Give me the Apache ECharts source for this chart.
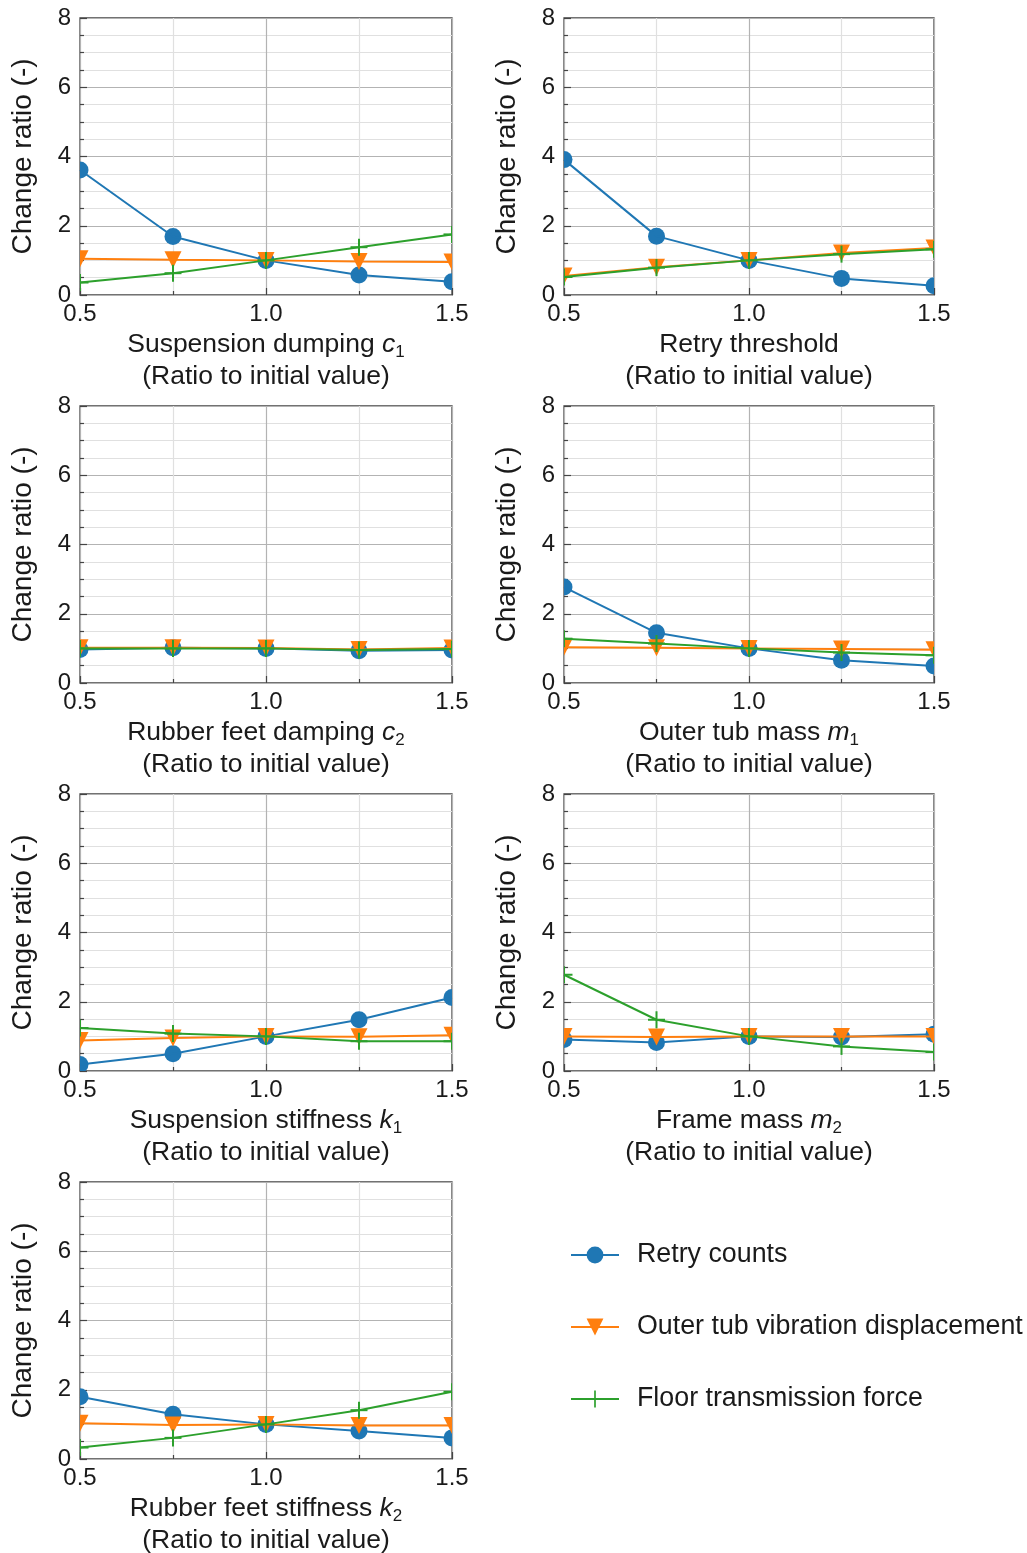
<!DOCTYPE html>
<html>
<head>
<meta charset="utf-8">
<script src="https://cdn.jsdelivr.net/npm/echarts@6/dist/echarts.min.js"></script>
<style>
  html, body { margin: 0; padding: 0; background: #ffffff; }
  #chart { width: 1027px; height: 1553px; }
</style>
</head>
<body>
<div id="chart"></div>
<script>
// Parameter ratio (x) shared by all panels
const ratioSteps = [0.5, 0.75, 1.0, 1.25, 1.5];

// Series names
const seriesNames = ['Retry counts', 'Outer tub vibration displacement', 'Floor transmission force'];

// Suspension damping c1
const c1Retry = [3.61, 1.69, 1.00, 0.58, 0.38];
const c1Disp  = [1.05, 1.02, 1.00, 0.97, 0.95];
const c1Force = [0.36, 0.63, 1.00, 1.38, 1.75];

// Retry threshold
const thrRetry = [3.91, 1.70, 1.00, 0.48, 0.27];
const thrDisp  = [0.55, 0.80, 1.00, 1.21, 1.36];
const thrForce = [0.52, 0.79, 1.00, 1.18, 1.32];

// Rubber feet damping c2
const c2Retry = [0.97, 1.02, 1.00, 0.93, 0.95];
const c2Disp  = [1.02, 1.02, 1.01, 0.97, 1.01];
const c2Force = [1.00, 1.00, 1.00, 0.95, 0.98];

// Outer tub mass m1
const m1Retry = [2.77, 1.45, 1.00, 0.66, 0.49];
const m1Disp  = [1.03, 1.02, 1.00, 0.98, 0.96];
const m1Force = [1.28, 1.14, 1.00, 0.88, 0.80];

// Suspension stiffness k1
const k1Retry = [0.19, 0.50, 1.00, 1.48, 2.12];
const k1Disp  = [0.88, 0.95, 1.00, 0.99, 1.03];
const k1Force = [1.24, 1.08, 1.00, 0.86, 0.86];

// Frame mass m2
const m2Retry = [0.91, 0.82, 1.00, 0.98, 1.06];
const m2Disp  = [1.00, 0.98, 1.00, 1.00, 1.00];
const m2Force = [2.78, 1.48, 1.00, 0.71, 0.55];

// Rubber feet stiffness k2
const k2Retry = [1.80, 1.29, 1.00, 0.81, 0.61];
const k2Disp  = [1.03, 0.98, 1.00, 0.97, 0.97];
const k2Force = [0.33, 0.61, 1.00, 1.41, 1.94];

// Axis titles: plain text, italic symbol, subscript
const panelTitles = [
  ['Suspension dumping ', 'c', '1'],
  ['Retry threshold', '', ''],
  ['Rubber feet damping ', 'c', '2'],
  ['Outer tub mass ', 'm', '1'],
  ['Suspension stiffness ', 'k', '1'],
  ['Frame mass ', 'm', '2'],
  ['Rubber feet stiffness ', 'k', '2']
];
const panelValues = [
  [c1Retry, c1Disp, c1Force],
  [thrRetry, thrDisp, thrForce],
  [c2Retry, c2Disp, c2Force],
  [m1Retry, m1Disp, m1Force],
  [k1Retry, k1Disp, k1Force],
  [m2Retry, m2Disp, m2Force],
  [k2Retry, k2Disp, k2Force]
];

const yTickValues = [0, 2, 4, 6, 8];
const yLabel = 'Change ratio (-)';
const xSubLabel = '(Ratio to initial value)';

const colors = ['#1f77b4', '#ff7f0e', '#2ca02c'];
const plusPath = 'path://M-1,-10H1V-1H10V1H1V10H-1V1H-10V-1H-1Z';
const legendSymbols = ['circle', 'triangle', plusPath];
const legendRotate = [0, 180, 0];

const FONT = '"Liberation Sans", Arial, sans-serif';
const TEXT = '#1a1a1a';

// Layout of the 4x2 panel grid
const colLeft = [80, 564];
const colWidth = [372, 370];
const rowTop = [18, 406, 794, 1182];
const plotHeight = 277;

const grids = [], xAxes = [], yAxes = [], series = [];

function markerItem(kind, color) {
  return function (params, api) {
    const p = api.coord([api.value(0), api.value(1)]);
    const r = 8.5;
    if (kind === 0) {
      return { type: 'circle', shape: { cx: p[0], cy: p[1], r: r }, style: { fill: color } };
    }
    if (kind === 1) {
      return {
        type: 'polygon',
        shape: { points: [[p[0] - r, p[1] - r], [p[0] + r, p[1] - r], [p[0], p[1] + r]] },
        style: { fill: color }
      };
    }
    return {
      type: 'group',
      children: [
        { type: 'line', shape: { x1: p[0] - r, y1: p[1], x2: p[0] + r, y2: p[1] }, style: { stroke: color, lineWidth: 2 } },
        { type: 'line', shape: { x1: p[0], y1: p[1] - r, x2: p[0], y2: p[1] + r }, style: { stroke: color, lineWidth: 2 } }
      ]
    };
  };
}

panelTitles.forEach(function (title, i) {
  const col = i % 2, row = Math.floor(i / 2);
  grids.push({
    left: colLeft[col], top: rowTop[row], width: colWidth[col], height: plotHeight,
    show: true, borderColor: '#444444', borderWidth: 1.3, backgroundColor: 'transparent',
    containLabel: false, outerBoundsMode: 'none'
  });

  let nameText = '{n|' + title[0] + '}';
  if (title[1]) nameText += '{i|' + title[1] + '}{s|' + title[2] + '}';
  nameText += '\n{n|' + xSubLabel + '}';

  xAxes.push({
    type: 'value', gridIndex: i, min: 0.5, max: 1.5, interval: 0.5,
    name: nameText, nameLocation: 'middle', nameGap: 34, nameMoveOverlap: false,
    nameTextStyle: {
      color: TEXT, fontFamily: FONT, fontSize: 26.5, lineHeight: 32,
      rich: {
        n: { color: TEXT, fontFamily: FONT, fontSize: 26.5, lineHeight: 32 },
        i: { color: TEXT, fontFamily: FONT, fontSize: 26.5, lineHeight: 32, fontStyle: 'italic' },
        s: { color: TEXT, fontFamily: FONT, fontSize: 17, lineHeight: 17, verticalAlign: 'bottom' }
      }
    },
    axisLine: { show: false },
    axisTick: { show: true, inside: true, length: 7, lineStyle: { color: '#444444', width: 1.2 } },
    minorTick: { show: true, splitNumber: 2, length: 4, lineStyle: { color: '#444444', width: 1.2 } },
    axisLabel: {
      show: true, margin: 7, color: TEXT, fontFamily: FONT, fontSize: 24,
      showMinLabel: true, showMaxLabel: true, hideOverlap: false,
      formatter: function (v) { return v.toFixed(1); }
    },
    splitLine: { show: true, lineStyle: { color: '#b3b3b3', width: 1.2 } },
    minorSplitLine: { show: true, lineStyle: { color: '#e0e0e0', width: 1.2 } }
  });

  yAxes.push({
    type: 'value', gridIndex: i, min: yTickValues[0], max: yTickValues[yTickValues.length - 1],
    interval: yTickValues[1] - yTickValues[0],
    name: yLabel, nameLocation: 'middle', nameGap: 42, nameMoveOverlap: false,
    nameTextStyle: { color: TEXT, fontFamily: FONT, fontSize: 28, lineHeight: 30 },
    axisLine: { show: false },
    axisTick: { show: true, inside: true, length: 7, lineStyle: { color: '#444444', width: 1.2 } },
    minorTick: { show: true, splitNumber: 4, length: 4, lineStyle: { color: '#444444', width: 1.2 } },
    axisLabel: {
      show: true, margin: 9, color: TEXT, fontFamily: FONT, fontSize: 24,
      showMinLabel: true, showMaxLabel: true, hideOverlap: false
    },
    splitLine: { show: true, lineStyle: { color: '#b3b3b3', width: 1.2 } },
    minorSplitLine: { show: true, lineStyle: { color: '#e0e0e0', width: 1.2 } }
  });

  panelValues[i].forEach(function (vals, k) {
    const pts = ratioSteps.map(function (x, j) { return [x, vals[j]]; });
    series.push({
      type: 'line', name: seriesNames[k], xAxisIndex: i, yAxisIndex: i, z: 2 + k,
      data: pts, showSymbol: false, symbol: legendSymbols[k], symbolRotate: legendRotate[k],
      lineStyle: { color: colors[k], width: 2 }, itemStyle: { color: colors[k] },
      emphasis: { disabled: true }, silent: true, clip: true
    });
    series.push({
      type: 'custom', name: seriesNames[k], xAxisIndex: i, yAxisIndex: i, z: 2 + k,
      data: pts, encode: { x: 0, y: 1 }, clip: true, silent: true,
      itemStyle: { color: colors[k] },
      renderItem: markerItem(k, colors[k])
    });
  });
});

const chart = echarts.init(document.getElementById('chart'), null, { renderer: 'canvas' });
chart.setOption({
  animation: false,
  backgroundColor: '#ffffff',
  grid: grids,
  xAxis: xAxes,
  yAxis: yAxes,
  legend: {
    orient: 'vertical', left: 565, top: 1235,
    data: seriesNames,
    itemWidth: 48, itemHeight: 21, itemGap: 42,
    selectedMode: false,
    textStyle: { color: TEXT, fontFamily: FONT, fontSize: 26.8, lineHeight: 30, padding: [0, 0, 0, 13] }
  },
  series: series
});
</script>
</body>
</html>
